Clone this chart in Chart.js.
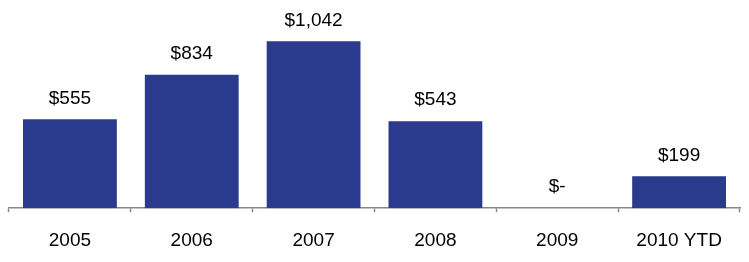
<!DOCTYPE html>
<html><head><meta charset="utf-8">
<script src="https://cdn.jsdelivr.net/npm/chart.js@4"></script>
<style>html,body{margin:0;padding:0;background:#fff}#w{width:749px;height:262px}</style>
</head><body><div id="w"><canvas id="c"></canvas></div>
<script>
const categories = ["2005","2006","2007","2008","2009","2010 YTD"];
const values = [555, 834, 1042, 543, 0, 199];
const valueLabels = ["$555","$834","$1,042","$543","$-","$199"];

const labelPlugin = {
  id: 'vlabels',
  afterDatasetsDraw(chart) {
    const ctx = chart.ctx;
    const meta = chart.getDatasetMeta(0);
    ctx.save();
    ctx.font = '19px "Liberation Sans", Arial, sans-serif';
    ctx.fillStyle = '#000';
    ctx.textAlign = 'center';
    ctx.textBaseline = 'middle';
    meta.data.forEach((bar, i) => {
      ctx.fillText(valueLabels[i], bar.x, bar.y - 21);
    });
    ctx.restore();
  }
};

new Chart(document.getElementById('c'), {
  type: 'bar',
  data: { labels: categories, datasets: [{ data: values, backgroundColor: '#2A3A8C', barPercentage: 0.77, categoryPercentage: 1.0 }] },
  options: {
    responsive: true, maintainAspectRatio: false, animation: false,
    layout: { padding: { left: 9, right: 9, top: 0, bottom: -7 } },
    plugins: { legend: { display: false }, tooltip: { enabled: false } },
    scales: {
      x: {
        grid: { offset: true, drawOnChartArea: false, drawTicks: true, tickLength: 4, color: '#888', tickWidth: 1.5 },
        border: { color: '#888', width: 1.5 },
        ticks: { color: '#000', font: { family: '"Liberation Sans", Arial, sans-serif', size: 19 }, padding: 17, maxRotation: 0 }
      },
      y: { display: false, min: 0, max: 1300 }
    }
  },
  plugins: [labelPlugin]
});
</script></body></html>
